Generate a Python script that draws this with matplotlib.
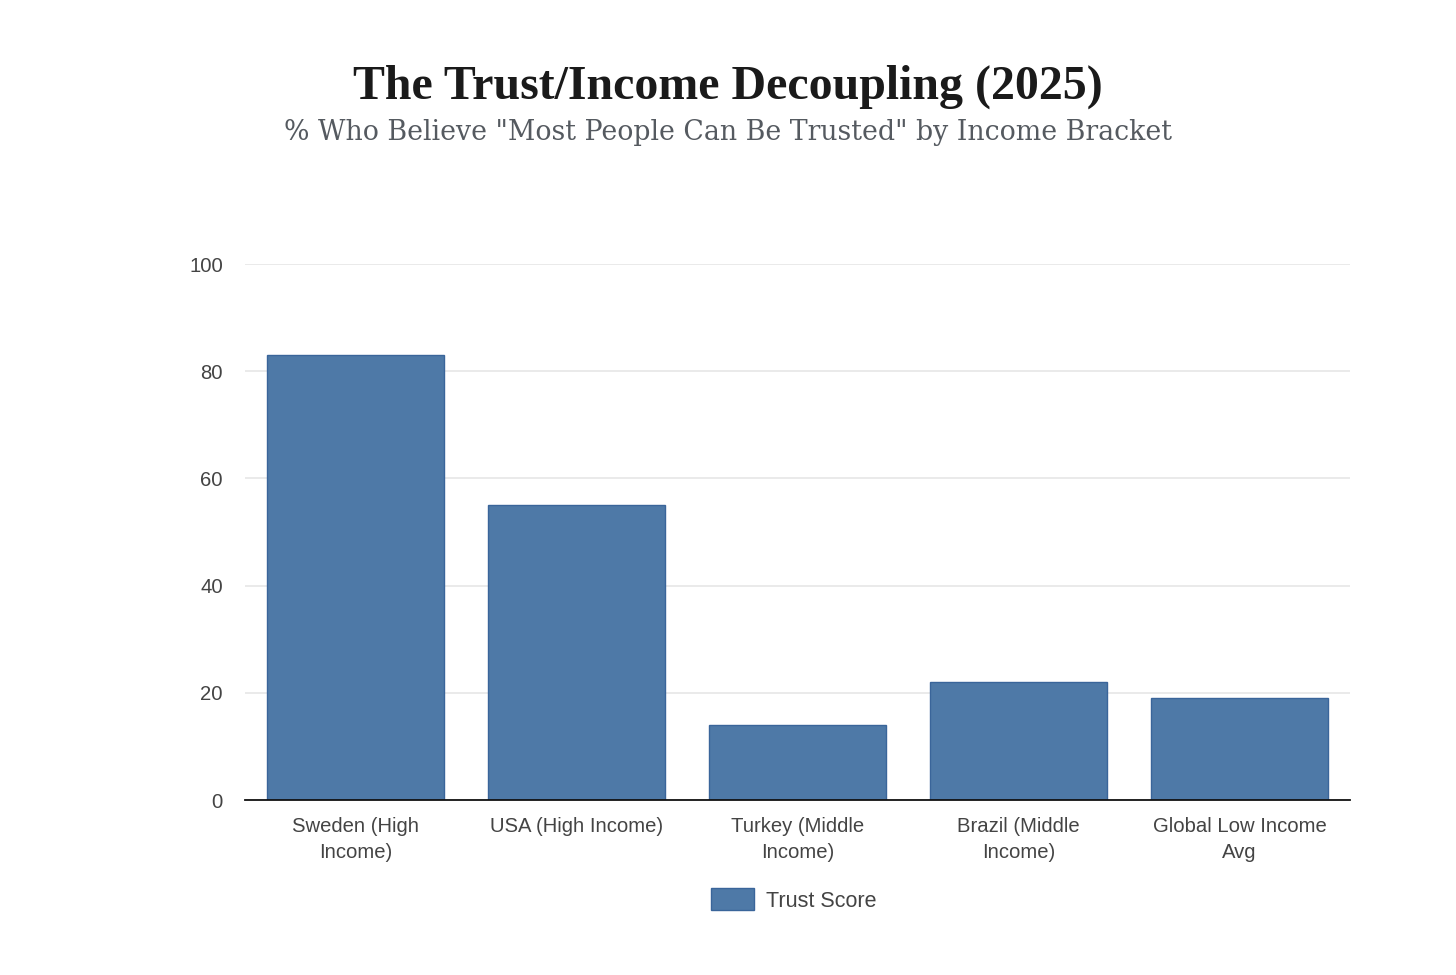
import matplotlib.pyplot as plt
import numpy as np

# Data
categories = ['Sweden (High\nIncome)', 'USA (High Income)', 'Turkey (Middle\nIncome)',
              'Brazil (Middle\nIncome)', 'Global Low Income\nAvg']
trust_score = [83, 55, 14, 22, 19]
y_ticks = [0, 20, 40, 60, 80, 100]

bar_color = '#4e79a7'
edge_color = '#3a659a'
text_grey = '#444444'

fig = plt.figure(figsize=(14.56, 9.75), dpi=100)
ax = fig.add_axes([245 / 1456, 1 - 800 / 975, 1105 / 1456, 536 / 975])

x = np.arange(len(categories))
ax.bar(x, trust_score, width=0.8, color=bar_color, edgecolor=edge_color,
       linewidth=1, label='Trust Score', zorder=3)

ax.set_xlim(-0.5, len(categories) - 0.5)
ax.set_ylim(0, 100)
ax.set_yticks(y_ticks)
ax.set_xticks(x)
ax.set_xticklabels(categories, fontsize=14.6, color=text_grey,
                   family='Liberation Sans', linespacing=1.5)
for lbl in ax.get_yticklabels():
    lbl.set_fontsize(14.6)
    lbl.set_color(text_grey)
    lbl.set_family('Liberation Sans')
ax.tick_params(axis='both', length=0)
ax.tick_params(axis='y', pad=16)
ax.tick_params(axis='x', pad=12)

ax.grid(axis='y', color='#e6e6e6', linewidth=1.2, zorder=0)
for side in ['top', 'right', 'left']:
    ax.spines[side].set_visible(False)
ax.spines['bottom'].set_color('#111111')
ax.spines['bottom'].set_linewidth(1.3)
ax.spines['bottom'].set_zorder(4)

fig.text(0.5, 1 - 87 / 975, 'The Trust/Income Decoupling (2025)', ha='center', va='center',
         fontsize=34.5, fontweight='bold', family='Liberation Serif', color='#1a1a1a')
fig.text(0.5, 1 - 132 / 975, '% Who Believe "Most People Can Be Trusted" by Income Bracket',
         ha='center', va='center', fontsize=19.3, family='DejaVu Serif', color='#555a60')

fig.legend(loc='center', bbox_to_anchor=(0.5452, 1 - 900 / 975), frameon=False,
           prop={'family': 'Liberation Sans', 'size': 15.5}, labelcolor=text_grey,
           handlelength=2.0, handleheight=1.2, handletextpad=0.55)

fig.savefig('out.png', dpi=100, facecolor='white')
